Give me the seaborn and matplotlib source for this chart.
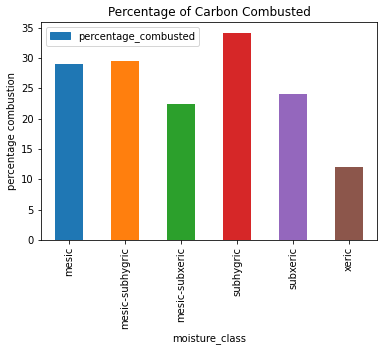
import pandas as pd
import numpy as np
import seaborn as sns
import matplotlib
matplotlib.use("Agg")
import matplotlib.pyplot as plt
from matplotlib.patches import Patch

# --- veri ---
moisture_class = ['mesic', 'mesic-subhygric', 'mesic-subxeric', 'subhygric', 'subxeric', 'xeric']
percentage_combusted = [29.1, 29.45, 22.5, 34.05, 24.0, 12.0]

df = pd.DataFrame({'moisture_class': moisture_class,
                   'percentage_combusted': percentage_combusted})

colors = sns.color_palette('tab10', len(moisture_class))

fig = plt.figure(figsize=(386 / 72, 351 / 72), dpi=72)
ax = fig.add_axes([0.106, 0.316, 0.871, 0.621])

sns.barplot(data=df, x='moisture_class', y='percentage_combusted', hue='moisture_class',
            palette=colors, width=0.5, legend=False, ax=ax, saturation=1)

ax.set_xlim(-0.5, len(moisture_class) - 0.5)
ax.set_ylim(0, max(percentage_combusted) * 1.055)
ax.set_yticks(np.arange(0, 36, 5))
ax.tick_params(axis='x', labelrotation=90)
ax.set_title('Percentage of Carbon Combusted', fontsize=12)
ax.set_xlabel('moisture_class')
ax.set_ylabel('percentage combustion')

# pandas tarzı legend: sadece ilk renk
ax.legend(handles=[Patch(color=colors[0], label='percentage_combusted')], loc='upper left')

fig.savefig('out.png', dpi=72)
